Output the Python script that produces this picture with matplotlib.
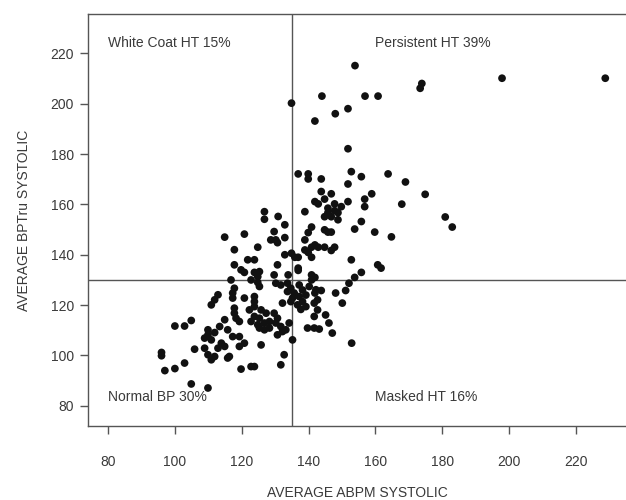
import matplotlib
matplotlib.use("Agg")
import matplotlib.pyplot as plt

plt.rcParams['font.family'] = ['Liberation Sans', 'DejaVu Sans']

# Average ABPM systolic (x) and average BPTru systolic (y)
abpm = [
    # top region
    153.9, 144.0, 156.9, 160.8, 134.9, 151.8, 148.0, 141.9, 173.9, 173.4, 197.9, 228.8, 151.8,
    # upper-right cluster
    136.9, 139.9, 139.9, 143.8, 152.8, 155.8, 163.8, 169.0, 151.8, 143.8, 146.8, 158.9, 174.9,
    141.9, 142.9, 144.8, 147.8, 149.8, 151.8, 156.8, 156.8, 167.9, 138.9,
    145.8, 145.8, 144.8, 146.8, 147.8, 148.8,
    148.8, 155.8, 153.8, 159.8, 164.8, 180.9, 183.0,
    140.9, 139.9, 144.8, 145.8, 146.8, 138.9, 132.9, 132.9,
    141.9, 142.9, 140.9, 144.8, 147.8, 146.8, 138.9, 139.9, 140.9, 134.9, 135.9, 136.9,
    152.8, 160.7, 161.7, 136.9, 136.9, 155.8, 153.8, 140.9, 140.9, 141.9, 133.9,
    # upper-left of the line
    126.8, 126.8, 130.9, 129.7, 128.7, 130.2, 130.7, 132.9, 130.7, 129.7,
    114.9, 120.8, 117.8, 124.8, 117.8, 121.8, 123.8, 119.8, 120.8, 123.8, 125.3, 124.8,
    # lower region
    116.8, 122.8, 124.8, 125.3, 117.8,
    130.2, 131.7, 133.7, 134.7, 135.7, 135.2, 133.7, 137.2, 138.2, 139.2, 137.2, 138.2,
    136.7, 137.7, 139.2, 142.2, 142.7, 141.7, 139.7, 141.7, 135.2, 132.7,
    117.3, 117.3, 120.8, 123.8, 123.8, 112.9, 111.9, 110.9, 117.8, 117.8, 114.9, 109.9, 108.9,
    122.3, 125.8, 127.3, 123.8, 125.3, 122.8, 124.8, 126.8, 128.3, 128.3,
    129.7, 130.7, 130.2, 131.7, 133.2,
    113.4, 115.8, 117.3, 110.9, 113.9, 114.9, 112.9, 119.3, 120.8, 119.3, 125.8,
    108.9, 109.9, 116.3,
    140.2, 141.7, 142.7, 148.1, 151.1, 152.1, 150.1, 132.2, 134.7,
    126.8, 125.3, 130.7, 132.2, 134.2, 145.1, 146.1, 147.1, 143.2, 131.7, 152.9,
    143.8, 141.9,
    # far lower-left
    100.0, 102.9, 104.9, 96.0, 96.0, 97.0, 100.0, 102.9, 105.9, 104.9, 109.9,
    110.9, 111.9, 115.8, 119.8, 122.8, 123.8,
    109.9, 111.9, 118.3, 119.3, 123.8,
]
bptru = [
    215.1, 203.0, 203.0, 203.0, 200.2, 198.0, 196.0, 193.1, 208.0, 206.1, 210.1, 210.1, 182.1,
    172.1, 172.1, 170.1, 170.1, 173.0, 171.0, 172.1, 168.9, 168.1, 165.1, 164.2, 164.2, 164.0,
    161.1, 160.2, 162.1, 160.2, 159.1, 161.1, 162.1, 159.1, 160.1, 157.1,
    158.5, 156.7, 155.1, 155.1, 157.5, 156.7,
    153.9, 153.2, 150.2, 149.0, 147.1, 155.0, 151.0,
    151.0, 148.8, 149.9, 149.0, 149.0, 145.9, 151.9, 146.8,
    143.9, 143.0, 143.0, 143.0, 143.0, 141.7, 141.9, 140.9, 139.0, 140.6, 139.0, 139.0,
    138.0, 136.0, 134.7, 134.7, 133.8, 133.0, 131.0, 132.0, 130.0, 131.0, 132.0,
    157.1, 154.1, 155.2, 149.2, 145.9, 145.9, 144.8, 140.0, 136.0, 132.0,
    147.0, 148.2, 142.0, 143.0, 136.0, 138.0, 138.0, 134.0, 133.0, 133.0, 133.3, 131.3,
    130.0, 130.0, 129.0, 127.4, 126.7,
    128.7, 128.0, 128.7, 126.7, 124.8, 122.8, 125.4, 128.0, 126.0, 124.0, 123.4, 121.4,
    120.1, 118.3, 119.4, 126.1, 118.1, 115.5, 110.9, 110.9, 106.2, 100.3,
    124.8, 122.8, 122.8, 123.4, 121.4, 124.1, 122.1, 120.1, 118.8, 116.8, 114.2, 110.2, 106.9,
    118.1, 118.1, 116.8, 115.5, 114.8, 113.5, 112.2, 112.9, 113.5, 110.9,
    116.8, 114.8, 112.9, 111.5, 110.2,
    111.5, 110.2, 107.5, 106.2, 104.9, 103.6, 102.9, 107.5, 104.9, 103.6, 104.2,
    102.9, 100.3, 99.6,
    127.4, 120.8, 122.1, 124.8, 125.8, 128.7, 120.8, 120.8, 121.4,
    110.2, 110.9, 108.2, 109.5, 112.9, 116.1, 112.9, 108.9, 110.5, 96.3, 104.9,
    125.8, 124.8,
    111.7, 111.7, 113.9, 101.2, 99.9, 94.0, 94.8, 97.0, 102.5, 88.7, 87.1,
    98.3, 99.6, 99.0, 94.6, 95.6, 95.6,
    108.2, 109.1, 114.8, 113.5, 119.4,
]

x_ticks = [80, 100, 120, 140, 160, 180, 200, 220]
y_ticks = [80, 100, 120, 140, 160, 180, 200, 220]
x_cut = 135
y_cut = 130
quadrant_labels = ["White Coat HT 15%", "Persistent HT 39%", "Normal BP 30%", "Masked HT 16%"]
label_x = [80, 160, 80, 160]
label_y = [224.2, 224.2, 83.6, 83.6]

fig = plt.figure(figsize=(6.26, 5.0), dpi=100)
ax = fig.add_axes([88/626, 1 - 426/500, 1 - 88/626, (426 - 14)/500])

line_col = '#555555'
text_col = '#3a3a3a'

ax.scatter(abpm, bptru, s=31, color='#111111', edgecolors='none', zorder=3)
ax.axvline(x_cut, color=line_col, lw=1.0, zorder=2)
ax.axhline(y_cut, color=line_col, lw=1.0, zorder=2)

for t, xv, yv in zip(quadrant_labels, label_x, label_y):
    ax.text(xv, yv, t, ha='left', va='center', fontsize=10, color=text_col)

ax.set_xlim(74, 235)
ax.set_ylim(72, 235.6)
ax.set_xticks(x_ticks)
ax.set_yticks(y_ticks)

for s in ['top', 'bottom', 'left']:
    ax.spines[s].set_color(line_col)
    ax.spines[s].set_linewidth(1.0)
ax.spines['right'].set_visible(False)

ax.tick_params(axis='x', direction='out', length=6, width=1.0, color=line_col,
               labelsize=10, labelcolor=text_col, pad=15)
ax.tick_params(axis='y', direction='out', length=6, width=1.0, color=line_col,
               labelsize=10, labelcolor=text_col, pad=4)

ax.set_xlabel("AVERAGE ABPM SYSTOLIC", fontsize=10, color=text_col, labelpad=12)
ax.set_ylabel("AVERAGE BPTru SYSTOLIC", fontsize=10, color=text_col, labelpad=14)

fig.savefig("out.png", dpi=100)
